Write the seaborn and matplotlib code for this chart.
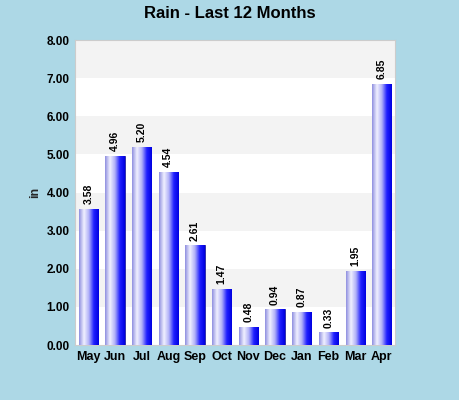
import matplotlib
matplotlib.use("Agg")
import matplotlib.pyplot as plt
import seaborn as sns
import numpy as np
import pandas as pd
from matplotlib.colors import LinearSegmentedColormap

months = ["May","Jun","Jul","Aug","Sep","Oct","Nov","Dec","Jan","Feb","Mar","Apr"]
rain = [3.58,4.96,5.20,4.54,2.61,1.47,0.48,0.94,0.87,0.33,1.95,6.85]

sns.set_style("white")
plt.rcParams['font.family'] = ['Liberation Sans', 'DejaVu Sans']
plt.rcParams['text.color'] = 'black'
plt.rcParams['xtick.color'] = 'black'
plt.rcParams['ytick.color'] = 'black'
fig = plt.figure(figsize=(4.6,4.0), dpi=100, facecolor="#ADD8E6")
ax = fig.add_axes([0.163,0.1375,0.696,0.7625])
df = pd.DataFrame({"m":months,"r":rain})
sns.barplot(data=df, x="m", y="r", color="#3333ff", width=0.72, ax=ax, zorder=3)
bars = list(ax.patches)
ax.set_xlim(-0.5,11.5)
for i in range(8):
    ax.axhspan(i, i+1, facecolor="#f3f3f3" if i%2==1 else "white", zorder=0, lw=0)
ax.set_facecolor("white")
cmap = LinearSegmentedColormap.from_list("g", ["#9090e0","#f0f0ff","#b0b0f8","#2020ff","#0000e0"])
grad = np.linspace(0,1,100).reshape(1,-1)
for p in bars:
    x0, w, h = p.get_x(), p.get_width(), p.get_height()
    im = ax.imshow(grad, cmap=cmap, aspect="auto", extent=[x0,x0+w,0,h], zorder=4)
    im.set_clip_path(p)
    p.set_edgecolor("#2020a0"); p.set_linewidth(0.6)
    ax.text(x0+w/2, h+0.12, f"{h:.2f}", rotation=90, ha="center", va="bottom",
            fontsize=7.5, fontweight="bold", zorder=5)
ax.set_ylim(0,8)
ax.set_xlim(-0.5,11.5)
ax.set_yticks(range(9))
ax.set_yticklabels([f"{v:.2f}" for v in range(9)], fontsize=8.5, fontweight="bold")
for t in ax.get_xticklabels():
    t.set_fontweight("bold"); t.set_fontsize(9)
ax.set_xlabel("")
ax.set_ylabel("in", fontsize=9, fontweight="bold")
ax.tick_params(length=0, pad=4)
for s in ax.spines.values():
    s.set_color("#cccccc"); s.set_linewidth(0.8)
fig.suptitle("Rain - Last 12 Months", fontsize=12, fontweight="bold", y=0.985)
fig.savefig("out.png", dpi=100, facecolor=fig.get_facecolor())
